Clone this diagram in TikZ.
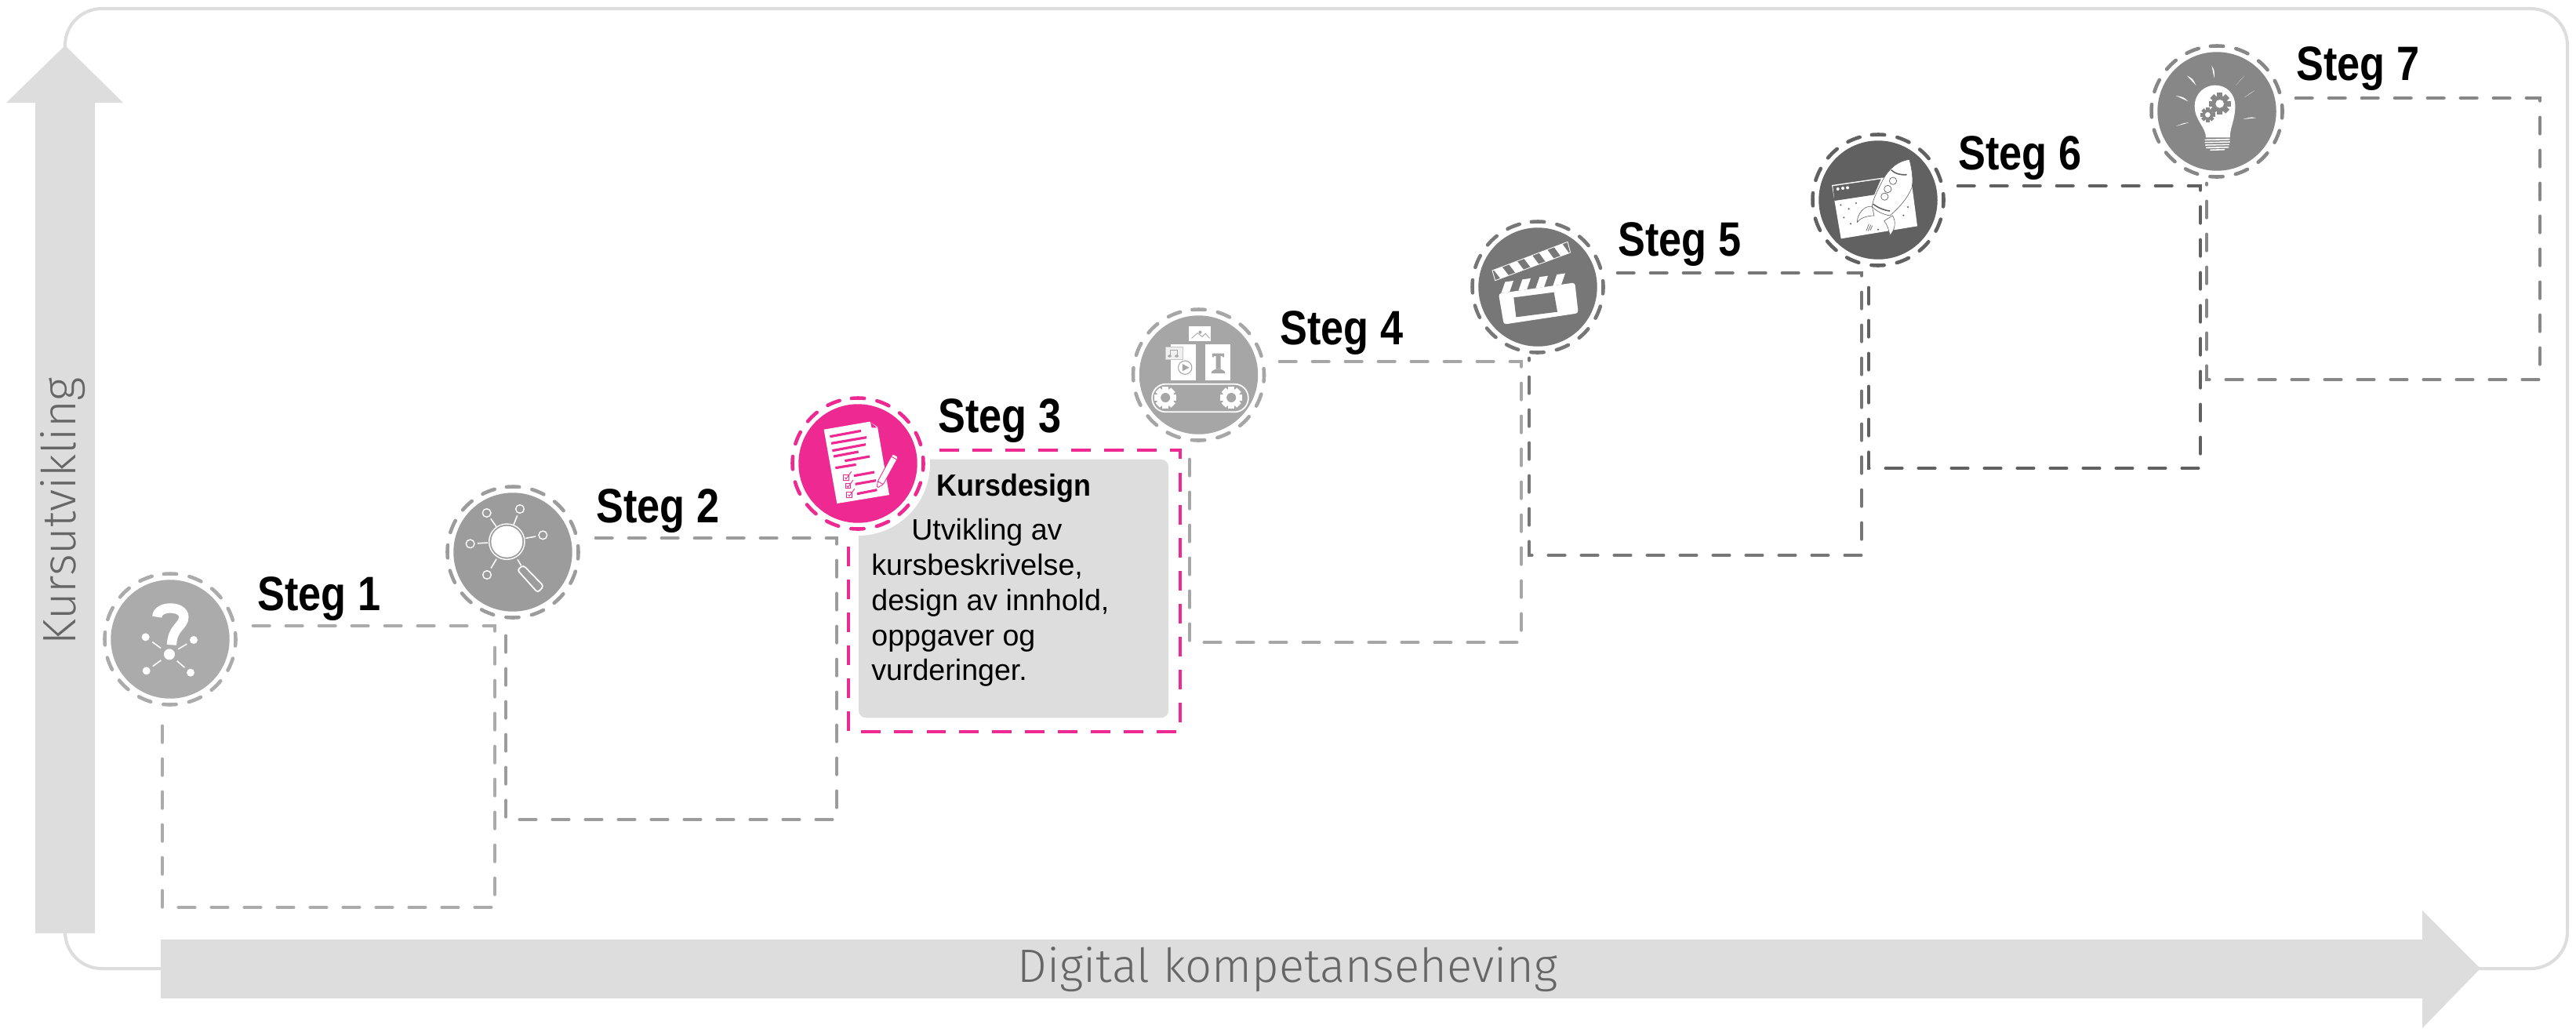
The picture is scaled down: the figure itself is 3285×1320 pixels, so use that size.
\documentclass[tikz,border=0pt]{standalone}
\usepackage{fontspec}
\usepackage{graphicx}
\usetikzlibrary{calc}
\setmainfont{Liberation Sans}
\newfontfamily\axisfont{Fira Sans Light}
\definecolor{frameg}{HTML}{DDDDDD}
\definecolor{cA}{HTML}{ABABAB}
\definecolor{cB}{HTML}{9C9C9C}
\definecolor{cC}{HTML}{EE2A92}
\definecolor{cD}{HTML}{A6A6A6}
\definecolor{cE}{HTML}{777777}
\definecolor{cF}{HTML}{616161}
\definecolor{cG}{HTML}{878787}
\tikzset{
  disc/.style={circle,fill=#1,minimum size=86.2pt,inner sep=0pt,draw=none},
  ringline/.style={line width=2.6pt,line cap=round,dash pattern=on 9.3pt off 9.4pt},
  stepframe/.style={line width=2.7pt,line cap=round,dash pattern=on 11.6pt off 12.3pt},
  pinkframe/.style={line width=2.7pt,dash pattern=on 14.17pt off 9.7pt},
  steplabel/.style={anchor=base west,inner sep=0pt,font=\bfseries\fontsize{35}{40}\selectfont},
  axislabel/.style={inner sep=0pt,text=black!60,font=\axisfont\fontsize{34}{38}\selectfont},
  iconscope/.style={shift={(#1.center)},x=0.006667cm,y=-0.006667cm},
}
\newcommand{\ringat}[2]{\draw[ringline,#2] (#1) ++(-95.6:83.5) arc[start angle=-95.6,delta angle=360,radius=83.5];}
\newcommand{\stepname}[1]{\scalebox{0.85}[1]{#1}}
% gear: x y body-radius outer-radius hole teeth colour holecolour
\newcommand{\gearat}[8]{%
  \fill[#7] (#1,#2) circle (#3);
  \foreach \gk in {1,...,#6}{
    \draw[#7,line width=#3*0.13pt] (#1,#2) ++({\gk*360/#6}:#3*0.8) -- ++({\gk*360/#6}:#4-#3*0.8);
  }
  \fill[#8] (#1,#2) circle (#5);
}
\newcommand{\rayat}[4]{\fill[white] (#1,#2) .. controls ($(#1,#2)!.5!(#3,#4)+(6,-6)$) .. (#3,#4) .. controls ($(#1,#2)!.5!(#3,#4)+(2,-2)$) .. (#1,#2);}
\begin{document}
\begin{tikzpicture}[x=0.02cm,y=-0.02cm]
\useasboundingbox (0,0) rectangle (3285,1320);
% outer frame and axes
\draw[frameg,line width=2.3pt,rounded corners=26.6pt] (83,11) rectangle (3274,1235);
\fill[frameg] (83,58) -- (157,131) -- (121,131) -- (121,1190) -- (45,1190) -- (45,131) -- (8,131) -- cycle;
\fill[frameg] (205,1198) -- (3089,1198) -- (3089,1161) -- (3163,1235) -- (3089,1311) -- (3089,1273) -- (205,1273) -- cycle;
\node[axislabel,rotate=90] (yaxis) at (80,652) {Kursutvikling};
\node[axislabel] (xaxis) at (1642,1236) {Digital kompetanseheving};
% step frames
\coordinate (a1) at (323,798);  \coordinate (b1) at (631,1157);  \coordinate (e1) at (207,908);
\coordinate (a2) at (760,686);  \coordinate (b2) at (1067,1045); \coordinate (e2) at (645,795);
\coordinate (a3) at (1198,574); \coordinate (b3) at (1505,933);  \coordinate (e3) at (1082,683);
\coordinate (a4) at (1632,461); \coordinate (b4) at (1940,819);  \coordinate (e4) at (1517,570);
\coordinate (a5) at (2063,348); \coordinate (b5) at (2374,708);  \coordinate (e5) at (1950,457);
\coordinate (a6) at (2497,237); \coordinate (b6) at (2806,597);  \coordinate (e6) at (2383,346);
\coordinate (a7) at (2928,125); \coordinate (b7) at (3239,484);  \coordinate (e7) at (2814,234);
\draw[stepframe,cA] (a1) -| (b1) -| (e1);
\draw[stepframe,cB] (a2) -| (b2) -| (e2);
\draw[stepframe,cD] (a4) -| (b4) -| (e4);
\draw[stepframe,cE] (a5) -| (b5) -| (e5);
\draw[stepframe,cF] (a6) -| (b6) -| (e6);
\draw[stepframe,cG] (a7) -| (b7) -| (e7);
\draw[pinkframe,cC] (a3) -| (b3) -| (e3);
% description box
\node[fill=frameg,rounded corners=5.5pt,minimum width=225pt,minimum height=187.6pt,inner sep=0pt] (box) at (1292.5,750.5) {};
\fill[white] (1094,591) circle (92);
\node[anchor=base west,inner sep=0pt,font=\bfseries\fontsize{22.2}{26}\selectfont] (boxtitle) at (1194,632) {\scalebox{0.92}[1]{Kursdesign}};
\node[anchor=north west,inner sep=0pt,align=left,font=\fontsize{21.4}{25.5}\selectfont] (boxtext) at (1111,661) {\hspace*{29pt}Utvikling av\\kursbeskrivelse,\\design av innhold,\\oppgaver og\\vurderinger.};
% discs
\node[disc=cA] (c1) at (217,815) {};
\node[disc=cB] (c2) at (654,704) {};
\node[disc=cC] (c3) at (1094,591) {};
\node[disc=cD] (c4) at (1528.5,478) {};
\node[disc=cE] (c5) at (1961,366) {};
\node[disc=cF] (c6) at (2395,255) {};
\node[disc=cG] (c7) at (2827,142) {};
\ringat{c1}{cA}\ringat{c2}{cB}\ringat{c3}{cC}\ringat{c4}{cD}\ringat{c5}{cE}\ringat{c6}{cF}\ringat{c7}{cG}
% labels
\node[steplabel] (l1) at (328,778) {\stepname{Steg 1}};
\node[steplabel] (l2) at (760,666) {\stepname{Steg 2}};
\node[steplabel] (l3) at (1196,551) {\stepname{Steg 3}};
\node[steplabel] (l4) at (1632,439) {\stepname{Steg 4}};
\node[steplabel] (l5) at (2063,326) {\stepname{Steg 5}};
\node[steplabel] (l6) at (2497,216) {\stepname{Steg 6}};
\node[steplabel] (l7) at (2928,102) {\stepname{Steg 7}};
% icon 1: question with network
\begin{scope}[iconscope=c1]
  \draw[white,line width=7pt] (-50,-85) .. controls (-50,-130) and (52,-130) .. (52,-85) .. controls (52,-50) and (8,-45) .. (6,22);
  \fill[white] (-3,58) circle (21);
  \foreach \nx/\ny in {-94/-8,90/3,-91/121,78/128}{
    \fill[white] (\nx,\ny) circle (15);
    \draw[white,line width=0.9pt] ($(-3,58)!.36!(\nx,\ny)$) -- ($(-3,58)!.72!(\nx,\ny)$);
  }
\end{scope}
% icon 2: magnifier
\begin{scope}[iconscope=c2]
  \foreach \nx/\ny in {-100/-150,27/-165,115/-65,-163/-32,-99/87}{
    \draw[white,line width=0.8pt] (\nx,\ny) circle (16);
    \draw[white,line width=0.9pt] ($(-23,-40)!.52!(\nx,\ny)$) -- ($(-23,-40)!.8!(\nx,\ny)$);
  }
  \fill[white] (-23,-40) circle (60);
  \draw[white,line width=0.8pt] (-23,-40) circle (68);
  \draw[white,line width=0.9pt] (18,28) -- (32,52);
  \draw[white,line width=1pt,rounded corners=2pt] (17,68) -- (40,50) -- (118,130) -- (95,155) -- cycle;
\end{scope}
% icon 3: document with checklist and pencil
\begin{scope}[iconscope=c3]
  \fill[white] (-130,-130) -- (45,-160) -- (75,-140) -- (120,120) -- (-80,153) -- cycle;
  \fill[cC] (48,-158) -- (73,-137) -- (53,-137) -- cycle;
  \foreach \ax/\ay/\bx/\by in {-107/-103/12/-125,-102/-77/33/-100,-98/-49/30/-73,-93/-27/2/-45,-50/-10/45/-27,-86/17/-7/4,-15/47/63/33,-10/79/69/65,-3/116/73/101}{
    \draw[cC,line width=1.8pt] (\ax,\ay) -- (\bx,\by);
  }
  \foreach \bx/\by in {-45/53,-38/85,-33/119}{
    \draw[cC,line width=0.4pt] (\bx-10,\by-10) rectangle (\bx+10,\by+10);
    \draw[cC,line width=0.5pt] (\bx-5,\by) -- (\bx,\by+6) -- (\bx+20,\by-22);
  }
  \draw[cC,line width=0.5pt,fill=white,rounded corners=1pt] (73,94) -- (76,68) -- (133,-37) -- (155,-25) -- (97,80) -- cycle;
  \draw[cC,line width=0.5pt] (127,-27) -- (149,-15);
  \draw[cC,line width=0.5pt] (76,68) -- (97,80);
\end{scope}
% icon 4: conveyor
\begin{scope}[iconscope=c4]
  \fill[white] (-37,-187) rectangle (45,-130);
  \draw[cD,line width=0.5pt] (-27,-140) -- (-4,-160) -- (14,-146) -- (26,-158) -- (42,-140);
  \fill[cD] (6,-163) circle (6);
  \fill[white] (-108,-118) rectangle (-10,20);
  \fill[white] (24,-118) rectangle (122,20);
  \draw[black!22,fill=black!6,line width=0.5pt] (-125,-107) rectangle (-61,-59);
  \draw[cD,line width=0.7pt] (-107,-72) -- (-107,-94) -- (-80,-94) -- (-80,-72);
  \fill[cD] (-111,-72) ellipse (7 and 5); \fill[cD] (-84,-72) ellipse (7 and 5);
  \draw[cD,line width=0.6pt] (-52,-28) circle (26);
  \fill[cD] (-62,-42) -- (-62,-14) -- (-36,-28) -- cycle;
  \fill[cD] (52,-82) -- (52,-68) -- (58,-68) -- (58,-72) -- (66,-72) -- (66,-22) -- (84,-22) -- (84,-72) -- (92,-72) -- (92,-68) -- (98,-68) -- (98,-82) -- cycle;
  \fill[cD] (48,-6) .. controls (50,-20) and (62,-18) .. (66,-22) -- (84,-22) .. controls (88,-18) and (100,-20) .. (102,-6) -- cycle;
  \draw[white,line width=1pt,rounded corners=10pt] (-178,35) rectangle (190,142);
  \gearat{-127}{87}{34}{42}{18}{8}{white}{cD}
  \gearat{125}{87}{34}{42}{18}{8}{white}{cD}
\end{scope}
% icon 5: clapper board
\begin{scope}[iconscope=c5]
  \coordinate (pa) at (-174,-63); \coordinate (pb) at (114,-173);
  \coordinate (qa) at (-163,-25); \coordinate (qb) at (125,-132);
  \foreach \ts/\te in {0.02/0.13,0.22/0.33,0.42/0.53,0.62/0.73,0.82/0.93}{
    \fill[white] ($(pa)!\ts!(pb)$) -- ($(pa)!\te!(pb)$) -- ($(qa)!\te+0.05!(qb)$) -- ($(qa)!\ts+0.05!(qb)$) -- cycle;
  }
  \draw[white,line width=0.5pt] (pa) -- (pb) -- (qb) -- (qa) -- cycle;
  \fill[white] (-140,23.6) -- (-108,19) -- (-93,-24) -- (-125,-19.4) -- cycle;
  \fill[white] (-74,14) -- (-42,9.6) -- (-27,-33.4) -- (-59,-29) -- cycle;
  \fill[white] (-8,4.6) -- (24,0) -- (39,-43) -- (7,-38.4) -- cycle;
  \fill[white] (58,-5) -- (90,-9.5) -- (105,-52.5) -- (73,-48) -- cycle;
  \fill[white,rounded corners=2pt] (-150,25) -- (142,-17) -- (155,100) -- (-130,143) -- cycle;
  \fill[cE] (-92,40) -- (62,20) -- (75,95) -- (-83,115) -- cycle;
\end{scope}
% icon 6: window with rocket
\begin{scope}[iconscope=c6]
  \fill[white] (-177,-57) -- (15,-85) -- (55,-85) -- (130,-53) -- (150,100) -- (-142,148) -- cycle;
  \fill[cF] (-173,-53) -- (11,-80) -- (-15,-20) -- (-167,3) -- cycle;
  \foreach \dx/\dy in {-154/-42,-135/-45,-117/-47}{\fill[white] (\dx,\dy) circle (6);}
  \foreach \dx/\dy in {-143/19,-112/34,-84/12,-131/67,-105/91,0/113,97/59,114/27}{\fill[cF] (\dx,\dy) circle (3.5);}
  \draw[cF,line width=0.35pt,fill=white] (-23,25) .. controls (-55,20) and (-80,55) .. (-80,85) .. controls (-65,65) and (-35,60) .. (-15,60) -- cycle;
  \draw[cF,line width=0.35pt,fill=white] (55,60) .. controls (70,80) and (65,115) .. (45,135) .. controls (40,110) and (35,95) .. (23,80) -- cycle;
  \draw[cF,line width=0.35pt,fill=white] (120,-155) .. controls (80,-150) and (45,-125) .. (20,-80) .. controls (0,-40) and (-20,-5) .. (-23,25) .. controls (-5,45) and (20,55) .. (45,60) .. controls (85,25) and (115,-10) .. (130,-50) .. controls (135,-90) and (128,-120) .. (120,-155) -- cycle;
  \draw[cF,line width=0.9pt] (50,-115) .. controls (65,-100) and (85,-95) .. (110,-97);
  \draw[cF,line width=0.9pt] (-20,15) .. controls (0,30) and (25,40) .. (45,42);
  \draw[cF,line width=0.4pt] (57,-73) circle (14) (37,-42) circle (14) (25,-13) circle (14);
  \draw[cF,line width=0.4pt] (-35,92) -- (-45,117) (-28,95) -- (-38,118) (-22,98) -- (-30,116);
\end{scope}
% icon 7: light bulb with gears
\begin{scope}[iconscope=c7]
  \fill[white] (-42,100) .. controls (-42,60) and (-85,35) .. (-85,-20) .. controls (-85,-70) and (-45,-100) .. (-7,-100) .. controls (35,-100) and (70,-70) .. (70,-20) .. controls (70,35) and (50,60) .. (50,100) -- cycle;
  \foreach \ty/\hw in {108/48,118/48,128/46,138/44,147/28}{
    \draw[white,line width=0.9pt] (2-\hw,\ty+1) -- (2+\hw,\ty-1);
  }
  \gearat{11}{-29}{31}{42}{16}{8}{cG}{white}
  \gearat{-35}{13}{20}{28}{10}{8}{cG}{white}
  \rayat{-20}{-175}{-10}{-127}
  \rayat{-115}{-137}{-80}{-100}
  \rayat{73}{-100}{105}{-137}
  \rayat{-157}{-60}{-110}{-38}
  \rayat{105}{-53}{145}{-80}
  \rayat{-157}{57}{-107}{43}
  \rayat{100}{30}{150}{25}
\end{scope}
\end{tikzpicture}
\end{document}
